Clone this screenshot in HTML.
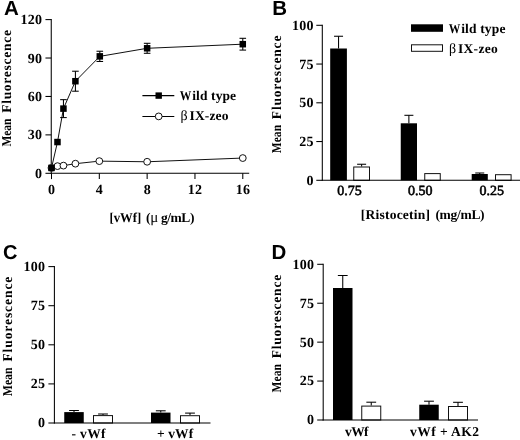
<!DOCTYPE html>
<html><head><meta charset="utf-8"><title>Figure</title>
<style>
html,body{margin:0;padding:0;background:#fff;}
body{width:520px;height:440px;overflow:hidden;font-family:"Liberation Serif",serif;}
svg{display:block;will-change:transform;text-rendering:geometricPrecision;filter:blur(0.25px);}
text{fill:#000;}
</style></head><body>
<svg width="520" height="440" viewBox="0 0 520 440">
<rect width="520" height="440" fill="#fff"/>
<text x="4.00" y="14.80" text-anchor="start" font-family='"Liberation Sans", sans-serif' font-weight="bold" font-size="20.5">A</text>
<g transform="translate(10.80,146.60) rotate(-90)" font-family='"Liberation Serif", serif' font-weight="bold" font-size="13.5"><text x="0" y="0" textLength="28.05" lengthAdjust="spacingAndGlyphs">Mean</text><text x="33.76" y="0" textLength="82.84" lengthAdjust="spacing">Fluorescence</text></g>
<line x1="51.25" y1="19.10" x2="51.25" y2="173.80" stroke="#000" stroke-width="1.05"/>
<line x1="45.45" y1="173.30" x2="51.25" y2="173.30" stroke="#000" stroke-width="1.05"/>
<text x="42.10" y="177.80" text-anchor="end" font-family='"Liberation Serif", serif' font-weight="bold" font-size="14">0</text>
<line x1="45.45" y1="134.88" x2="51.25" y2="134.88" stroke="#000" stroke-width="1.05"/>
<text x="42.10" y="139.38" text-anchor="end" font-family='"Liberation Serif", serif' font-weight="bold" font-size="14" textLength="14.25" lengthAdjust="spacing">30</text>
<line x1="45.45" y1="96.45" x2="51.25" y2="96.45" stroke="#000" stroke-width="1.05"/>
<text x="42.10" y="100.95" text-anchor="end" font-family='"Liberation Serif", serif' font-weight="bold" font-size="14" textLength="14.25" lengthAdjust="spacing">60</text>
<line x1="45.45" y1="58.02" x2="51.25" y2="58.02" stroke="#000" stroke-width="1.05"/>
<text x="42.10" y="62.52" text-anchor="end" font-family='"Liberation Serif", serif' font-weight="bold" font-size="14" textLength="14.25" lengthAdjust="spacing">90</text>
<line x1="45.45" y1="19.60" x2="51.25" y2="19.60" stroke="#000" stroke-width="1.05"/>
<text x="42.10" y="24.10" text-anchor="end" font-family='"Liberation Serif", serif' font-weight="bold" font-size="14" textLength="21.50" lengthAdjust="spacing">120</text>
<line x1="50.75" y1="173.30" x2="249.20" y2="173.30" stroke="#000" stroke-width="1.05"/>
<line x1="51.50" y1="173.30" x2="51.50" y2="179.10" stroke="#000" stroke-width="1.05"/>
<text x="51.50" y="194.10" text-anchor="middle" font-family='"Liberation Serif", serif' font-weight="bold" font-size="14">0</text>
<line x1="99.32" y1="173.30" x2="99.32" y2="179.10" stroke="#000" stroke-width="1.05"/>
<text x="99.32" y="194.10" text-anchor="middle" font-family='"Liberation Serif", serif' font-weight="bold" font-size="14">4</text>
<line x1="147.14" y1="173.30" x2="147.14" y2="179.10" stroke="#000" stroke-width="1.05"/>
<text x="147.14" y="194.10" text-anchor="middle" font-family='"Liberation Serif", serif' font-weight="bold" font-size="14">8</text>
<line x1="194.96" y1="173.30" x2="194.96" y2="179.10" stroke="#000" stroke-width="1.05"/>
<text x="194.96" y="194.10" text-anchor="middle" font-family='"Liberation Serif", serif' font-weight="bold" font-size="14" textLength="14.25" lengthAdjust="spacing">12</text>
<line x1="242.78" y1="173.30" x2="242.78" y2="179.10" stroke="#000" stroke-width="1.05"/>
<text x="242.78" y="194.10" text-anchor="middle" font-family='"Liberation Serif", serif' font-weight="bold" font-size="14" textLength="14.25" lengthAdjust="spacing">16</text>
<text x="109.40" y="221.80" text-anchor="start" font-family='"Liberation Serif", serif' font-weight="bold" font-size="13.5" textLength="31.80" lengthAdjust="spacingAndGlyphs">[vWf]</text>
<text x="146.00" y="221.80" text-anchor="start" font-family='"Liberation Serif", serif' font-weight="bold" font-size="13.5">(</text>
<text x="150.30" y="221.80" text-anchor="start" font-family='"Liberation Serif", serif' font-weight="normal" font-size="15">μ</text>
<text x="161.00" y="221.80" text-anchor="start" font-family='"Liberation Serif", serif' font-weight="bold" font-size="13.5" textLength="33.40" lengthAdjust="spacing">g/mL)</text>
<polyline points="51.50,167.92 57.48,142.05 63.45,108.62 75.41,81.21 99.80,56.36 147.14,48.29 242.78,44.19" fill="none" stroke="#111" stroke-width="1"/>
<polyline points="51.50,167.92 57.48,166.13 63.45,165.62 75.41,163.69 99.32,161.13 147.14,161.77 242.78,158.06" fill="none" stroke="#111" stroke-width="1"/>
<line x1="63.45" y1="99.65" x2="63.45" y2="117.58" stroke="#000" stroke-width="1.05"/>
<line x1="60.16" y1="99.65" x2="66.75" y2="99.65" stroke="#000" stroke-width="1.05"/>
<line x1="60.16" y1="117.58" x2="66.75" y2="117.58" stroke="#000" stroke-width="1.05"/>
<line x1="75.41" y1="71.22" x2="75.41" y2="91.20" stroke="#000" stroke-width="1.05"/>
<line x1="72.11" y1="71.22" x2="78.71" y2="71.22" stroke="#000" stroke-width="1.05"/>
<line x1="72.11" y1="91.20" x2="78.71" y2="91.20" stroke="#000" stroke-width="1.05"/>
<line x1="99.80" y1="51.24" x2="99.80" y2="61.48" stroke="#000" stroke-width="1.05"/>
<line x1="96.50" y1="51.24" x2="103.10" y2="51.24" stroke="#000" stroke-width="1.05"/>
<line x1="96.50" y1="61.48" x2="103.10" y2="61.48" stroke="#000" stroke-width="1.05"/>
<line x1="147.14" y1="43.30" x2="147.14" y2="53.29" stroke="#000" stroke-width="1.05"/>
<line x1="143.84" y1="43.30" x2="150.44" y2="43.30" stroke="#000" stroke-width="1.05"/>
<line x1="143.84" y1="53.29" x2="150.44" y2="53.29" stroke="#000" stroke-width="1.05"/>
<line x1="242.78" y1="38.30" x2="242.78" y2="50.08" stroke="#000" stroke-width="1.05"/>
<line x1="239.48" y1="38.30" x2="246.08" y2="38.30" stroke="#000" stroke-width="1.05"/>
<line x1="239.48" y1="50.08" x2="246.08" y2="50.08" stroke="#000" stroke-width="1.05"/>
<circle cx="51.50" cy="167.92" r="3.4" fill="#fff" stroke="#111" stroke-width="1"/>
<circle cx="57.48" cy="166.13" r="3.4" fill="#fff" stroke="#111" stroke-width="1"/>
<circle cx="63.45" cy="165.62" r="3.4" fill="#fff" stroke="#111" stroke-width="1"/>
<circle cx="75.41" cy="163.69" r="3.4" fill="#fff" stroke="#111" stroke-width="1"/>
<circle cx="99.32" cy="161.13" r="3.4" fill="#fff" stroke="#111" stroke-width="1"/>
<circle cx="147.14" cy="161.77" r="3.4" fill="#fff" stroke="#111" stroke-width="1"/>
<circle cx="242.78" cy="158.06" r="3.4" fill="#fff" stroke="#111" stroke-width="1"/>
<rect x="48.25" y="164.67" width="6.5" height="6.5" fill="#000"/>
<rect x="54.23" y="138.80" width="6.5" height="6.5" fill="#000"/>
<rect x="60.20" y="105.37" width="6.5" height="6.5" fill="#000"/>
<rect x="72.16" y="77.96" width="6.5" height="6.5" fill="#000"/>
<rect x="96.55" y="53.11" width="6.5" height="6.5" fill="#000"/>
<rect x="143.89" y="45.04" width="6.5" height="6.5" fill="#000"/>
<rect x="239.53" y="40.94" width="6.5" height="6.5" fill="#000"/>
<line x1="142.40" y1="95.60" x2="174.30" y2="95.60" stroke="#000" stroke-width="1.05"/>
<rect x="155.50" y="92.40" width="6.4" height="6.4" fill="#000"/>
<text x="179.80" y="100.10" text-anchor="start" font-family='"Liberation Serif", serif' font-weight="bold" font-size="13.5" textLength="11.60" lengthAdjust="spacingAndGlyphs">W</text>
<text x="192.20" y="100.10" text-anchor="start" font-family='"Liberation Serif", serif' font-weight="bold" font-size="13.5" textLength="43.90" lengthAdjust="spacing">ild type</text>
<line x1="142.40" y1="116.40" x2="174.30" y2="116.40" stroke="#000" stroke-width="1.05"/>
<circle cx="158.7" cy="116.4" r="3.4" fill="#fff" stroke="#111" stroke-width="1"/>
<text x="180.50" y="120.20" text-anchor="start" font-family='"Liberation Serif", serif' font-weight="normal" font-size="14">β</text>
<text x="189.50" y="120.20" text-anchor="start" font-family='"Liberation Serif", serif' font-weight="bold" font-size="13.5" textLength="39.00" lengthAdjust="spacing">IX-zeo</text>
<text x="272.20" y="14.70" text-anchor="start" font-family='"Liberation Sans", sans-serif' font-weight="bold" font-size="20.5">B</text>
<g transform="translate(281.00,153.20) rotate(-90)" font-family='"Liberation Serif", serif' font-weight="bold" font-size="13.5"><text x="0" y="0" textLength="28.29" lengthAdjust="spacingAndGlyphs">Mean</text><text x="34.05" y="0" textLength="83.55" lengthAdjust="spacing">Fluorescence</text></g>
<line x1="338.55" y1="36.25" x2="338.55" y2="48.50" stroke="#000" stroke-width="1.05"/>
<line x1="334.05" y1="36.25" x2="343.05" y2="36.25" stroke="#000" stroke-width="1.05"/>
<rect x="330.20" y="48.50" width="16.70" height="131.80" fill="#000"/>
<line x1="361.62" y1="164.25" x2="361.62" y2="166.50" stroke="#000" stroke-width="1.05"/>
<line x1="357.12" y1="164.25" x2="366.12" y2="164.25" stroke="#000" stroke-width="1.05"/>
<rect x="353.75" y="167.00" width="15.75" height="13.30" fill="#fff" stroke="#111" stroke-width="1"/>
<line x1="408.88" y1="115.30" x2="408.88" y2="123.30" stroke="#000" stroke-width="1.05"/>
<line x1="404.38" y1="115.30" x2="413.38" y2="115.30" stroke="#000" stroke-width="1.05"/>
<rect x="400.75" y="123.30" width="16.25" height="57.00" fill="#000"/>
<rect x="424.75" y="173.60" width="15.50" height="6.70" fill="#fff" stroke="#111" stroke-width="1"/>
<line x1="479.75" y1="173.00" x2="479.75" y2="174.00" stroke="#000" stroke-width="1.05"/>
<line x1="475.25" y1="173.00" x2="484.25" y2="173.00" stroke="#000" stroke-width="1.05"/>
<rect x="471.70" y="174.00" width="16.10" height="6.30" fill="#000"/>
<rect x="495.50" y="174.70" width="15.60" height="5.60" fill="#fff" stroke="#111" stroke-width="1"/>
<line x1="322.30" y1="24.80" x2="322.30" y2="180.80" stroke="#000" stroke-width="1.05"/>
<line x1="316.30" y1="180.30" x2="322.30" y2="180.30" stroke="#000" stroke-width="1.05"/>
<text x="313.50" y="184.80" text-anchor="end" font-family='"Liberation Serif", serif' font-weight="bold" font-size="14">0</text>
<line x1="316.30" y1="141.55" x2="322.30" y2="141.55" stroke="#000" stroke-width="1.05"/>
<text x="313.50" y="146.05" text-anchor="end" font-family='"Liberation Serif", serif' font-weight="bold" font-size="14" textLength="14.25" lengthAdjust="spacing">25</text>
<line x1="316.30" y1="102.80" x2="322.30" y2="102.80" stroke="#000" stroke-width="1.05"/>
<text x="313.50" y="107.30" text-anchor="end" font-family='"Liberation Serif", serif' font-weight="bold" font-size="14" textLength="14.25" lengthAdjust="spacing">50</text>
<line x1="316.30" y1="64.05" x2="322.30" y2="64.05" stroke="#000" stroke-width="1.05"/>
<text x="313.50" y="68.55" text-anchor="end" font-family='"Liberation Serif", serif' font-weight="bold" font-size="14" textLength="14.25" lengthAdjust="spacing">75</text>
<line x1="316.30" y1="25.30" x2="322.30" y2="25.30" stroke="#000" stroke-width="1.05"/>
<text x="313.50" y="29.80" text-anchor="end" font-family='"Liberation Serif", serif' font-weight="bold" font-size="14" textLength="21.50" lengthAdjust="spacing">100</text>
<line x1="321.80" y1="180.30" x2="520.00" y2="180.30" stroke="#000" stroke-width="1.05"/>
<text x="349.40" y="195.00" text-anchor="middle" font-family='"Liberation Serif", serif' font-weight="normal" font-size="14" stroke="#000" stroke-width="0.55">0.75</text>
<text x="420.30" y="195.00" text-anchor="middle" font-family='"Liberation Serif", serif' font-weight="normal" font-size="14" stroke="#000" stroke-width="0.55">0.50</text>
<text x="491.70" y="195.00" text-anchor="middle" font-family='"Liberation Serif", serif' font-weight="normal" font-size="14" stroke="#000" stroke-width="0.55">0.25</text>
<text x="360.80" y="218.50" text-anchor="start" font-family='"Liberation Serif", serif' font-weight="bold" font-size="13.5" textLength="69.20" lengthAdjust="spacing">[Ristocetin]</text>
<text x="435.40" y="218.50" text-anchor="start" font-family='"Liberation Serif", serif' font-weight="bold" font-size="13.5" textLength="49.20" lengthAdjust="spacing">(mg/mL)</text>
<rect x="411" y="24.3" width="32" height="7.5" fill="#000"/>
<rect x="411.5" y="44.8" width="31" height="6.5" fill="#fff" stroke="#111" stroke-width="1"/>
<text x="448.80" y="32.50" text-anchor="start" font-family='"Liberation Serif", serif' font-weight="bold" font-size="13.5" textLength="11.60" lengthAdjust="spacingAndGlyphs">W</text>
<text x="461.20" y="32.50" text-anchor="start" font-family='"Liberation Serif", serif' font-weight="bold" font-size="13.5" textLength="44.20" lengthAdjust="spacing">ild type</text>
<text x="449.00" y="53.00" text-anchor="start" font-family='"Liberation Serif", serif' font-weight="normal" font-size="14">β</text>
<text x="458.00" y="53.00" text-anchor="start" font-family='"Liberation Serif", serif' font-weight="bold" font-size="13.5" textLength="39.70" lengthAdjust="spacing">IX-zeo</text>
<text x="2.90" y="259.00" text-anchor="start" font-family='"Liberation Sans", sans-serif' font-weight="bold" font-size="20">C</text>
<g transform="translate(12.40,396.20) rotate(-90)" font-family='"Liberation Serif", serif' font-weight="bold" font-size="13.5"><text x="0" y="0" textLength="28.75" lengthAdjust="spacingAndGlyphs">Mean</text><text x="34.60" y="0" textLength="84.90" lengthAdjust="spacing">Fluorescence</text></g>
<line x1="74.00" y1="410.50" x2="74.00" y2="412.10" stroke="#000" stroke-width="1.05"/>
<line x1="69.10" y1="410.50" x2="78.90" y2="410.50" stroke="#000" stroke-width="1.05"/>
<rect x="64.25" y="412.10" width="19.50" height="10.90" fill="#000"/>
<line x1="103.00" y1="414.00" x2="103.00" y2="415.10" stroke="#000" stroke-width="1.05"/>
<line x1="98.10" y1="414.00" x2="107.90" y2="414.00" stroke="#000" stroke-width="1.05"/>
<rect x="93.50" y="415.60" width="19.00" height="7.40" fill="#fff" stroke="#111" stroke-width="1"/>
<line x1="160.75" y1="410.80" x2="160.75" y2="412.60" stroke="#000" stroke-width="1.05"/>
<line x1="155.85" y1="410.80" x2="165.65" y2="410.80" stroke="#000" stroke-width="1.05"/>
<rect x="151.00" y="412.60" width="19.50" height="10.40" fill="#000"/>
<line x1="190.00" y1="413.10" x2="190.00" y2="415.20" stroke="#000" stroke-width="1.05"/>
<line x1="185.10" y1="413.10" x2="194.90" y2="413.10" stroke="#000" stroke-width="1.05"/>
<rect x="180.50" y="415.70" width="19.00" height="7.30" fill="#fff" stroke="#111" stroke-width="1"/>
<line x1="54.40" y1="266.10" x2="54.40" y2="423.50" stroke="#000" stroke-width="1.05"/>
<line x1="48.40" y1="423.00" x2="54.40" y2="423.00" stroke="#000" stroke-width="1.05"/>
<text x="45.00" y="427.30" text-anchor="end" font-family='"Liberation Serif", serif' font-weight="bold" font-size="14">0</text>
<line x1="48.40" y1="383.90" x2="54.40" y2="383.90" stroke="#000" stroke-width="1.05"/>
<text x="45.00" y="388.20" text-anchor="end" font-family='"Liberation Serif", serif' font-weight="bold" font-size="14" textLength="14.25" lengthAdjust="spacing">25</text>
<line x1="48.40" y1="344.80" x2="54.40" y2="344.80" stroke="#000" stroke-width="1.05"/>
<text x="45.00" y="349.10" text-anchor="end" font-family='"Liberation Serif", serif' font-weight="bold" font-size="14" textLength="14.25" lengthAdjust="spacing">50</text>
<line x1="48.40" y1="305.70" x2="54.40" y2="305.70" stroke="#000" stroke-width="1.05"/>
<text x="45.00" y="310.00" text-anchor="end" font-family='"Liberation Serif", serif' font-weight="bold" font-size="14" textLength="14.25" lengthAdjust="spacing">75</text>
<line x1="48.40" y1="266.60" x2="54.40" y2="266.60" stroke="#000" stroke-width="1.05"/>
<text x="45.00" y="270.90" text-anchor="end" font-family='"Liberation Serif", serif' font-weight="bold" font-size="14" textLength="21.50" lengthAdjust="spacing">100</text>
<line x1="53.90" y1="423.00" x2="210.50" y2="423.00" stroke="#000" stroke-width="1.05"/>
<text x="71.50" y="437.70" text-anchor="start" font-family='"Liberation Serif", serif' font-weight="bold" font-size="13.5" textLength="34.00" lengthAdjust="spacing">- vWf</text>
<text x="157.00" y="437.70" text-anchor="start" font-family='"Liberation Serif", serif' font-weight="bold" font-size="13.5" textLength="36.20" lengthAdjust="spacing">+ vWf</text>
<text x="271.50" y="258.50" text-anchor="start" font-family='"Liberation Sans", sans-serif' font-weight="bold" font-size="20.5">D</text>
<g transform="translate(281.00,392.40) rotate(-90)" font-family='"Liberation Serif", serif' font-weight="bold" font-size="13.5"><text x="0" y="0" textLength="28.29" lengthAdjust="spacingAndGlyphs">Mean</text><text x="34.05" y="0" textLength="83.55" lengthAdjust="spacing">Fluorescence</text></g>
<line x1="342.75" y1="275.50" x2="342.75" y2="288.00" stroke="#000" stroke-width="1.05"/>
<line x1="337.85" y1="275.50" x2="347.65" y2="275.50" stroke="#000" stroke-width="1.05"/>
<rect x="333.00" y="288.00" width="19.50" height="132.00" fill="#000"/>
<line x1="371.25" y1="402.20" x2="371.25" y2="405.60" stroke="#000" stroke-width="1.05"/>
<line x1="366.35" y1="402.20" x2="376.15" y2="402.20" stroke="#000" stroke-width="1.05"/>
<rect x="361.75" y="406.10" width="19.00" height="13.90" fill="#fff" stroke="#111" stroke-width="1"/>
<line x1="429.00" y1="401.20" x2="429.00" y2="404.70" stroke="#000" stroke-width="1.05"/>
<line x1="424.10" y1="401.20" x2="433.90" y2="401.20" stroke="#000" stroke-width="1.05"/>
<rect x="419.25" y="404.70" width="19.50" height="15.30" fill="#000"/>
<line x1="458.00" y1="402.30" x2="458.00" y2="406.00" stroke="#000" stroke-width="1.05"/>
<line x1="453.10" y1="402.30" x2="462.90" y2="402.30" stroke="#000" stroke-width="1.05"/>
<rect x="448.50" y="406.50" width="19.00" height="13.50" fill="#fff" stroke="#111" stroke-width="1"/>
<line x1="323.20" y1="263.80" x2="323.20" y2="420.50" stroke="#000" stroke-width="1.05"/>
<line x1="317.20" y1="420.00" x2="323.20" y2="420.00" stroke="#000" stroke-width="1.05"/>
<text x="314.10" y="424.40" text-anchor="end" font-family='"Liberation Serif", serif' font-weight="bold" font-size="14">0</text>
<line x1="317.20" y1="381.07" x2="323.20" y2="381.07" stroke="#000" stroke-width="1.05"/>
<text x="314.10" y="385.47" text-anchor="end" font-family='"Liberation Serif", serif' font-weight="bold" font-size="14" textLength="14.25" lengthAdjust="spacing">25</text>
<line x1="317.20" y1="342.15" x2="323.20" y2="342.15" stroke="#000" stroke-width="1.05"/>
<text x="314.10" y="346.55" text-anchor="end" font-family='"Liberation Serif", serif' font-weight="bold" font-size="14" textLength="14.25" lengthAdjust="spacing">50</text>
<line x1="317.20" y1="303.23" x2="323.20" y2="303.23" stroke="#000" stroke-width="1.05"/>
<text x="314.10" y="307.62" text-anchor="end" font-family='"Liberation Serif", serif' font-weight="bold" font-size="14" textLength="14.25" lengthAdjust="spacing">75</text>
<line x1="317.20" y1="264.30" x2="323.20" y2="264.30" stroke="#000" stroke-width="1.05"/>
<text x="314.10" y="268.70" text-anchor="end" font-family='"Liberation Serif", serif' font-weight="bold" font-size="14" textLength="21.50" lengthAdjust="spacing">100</text>
<line x1="322.70" y1="420.00" x2="478.00" y2="420.00" stroke="#000" stroke-width="1.05"/>
<text x="345.00" y="435.60" text-anchor="start" font-family='"Liberation Serif", serif' font-weight="bold" font-size="13.5" textLength="23.60" lengthAdjust="spacing">vWf</text>
<text x="410.00" y="435.50" text-anchor="start" font-family='"Liberation Serif", serif' font-weight="bold" font-size="13.5" textLength="69.00" lengthAdjust="spacing">vWf + AK2</text>
</svg>
</body></html>
